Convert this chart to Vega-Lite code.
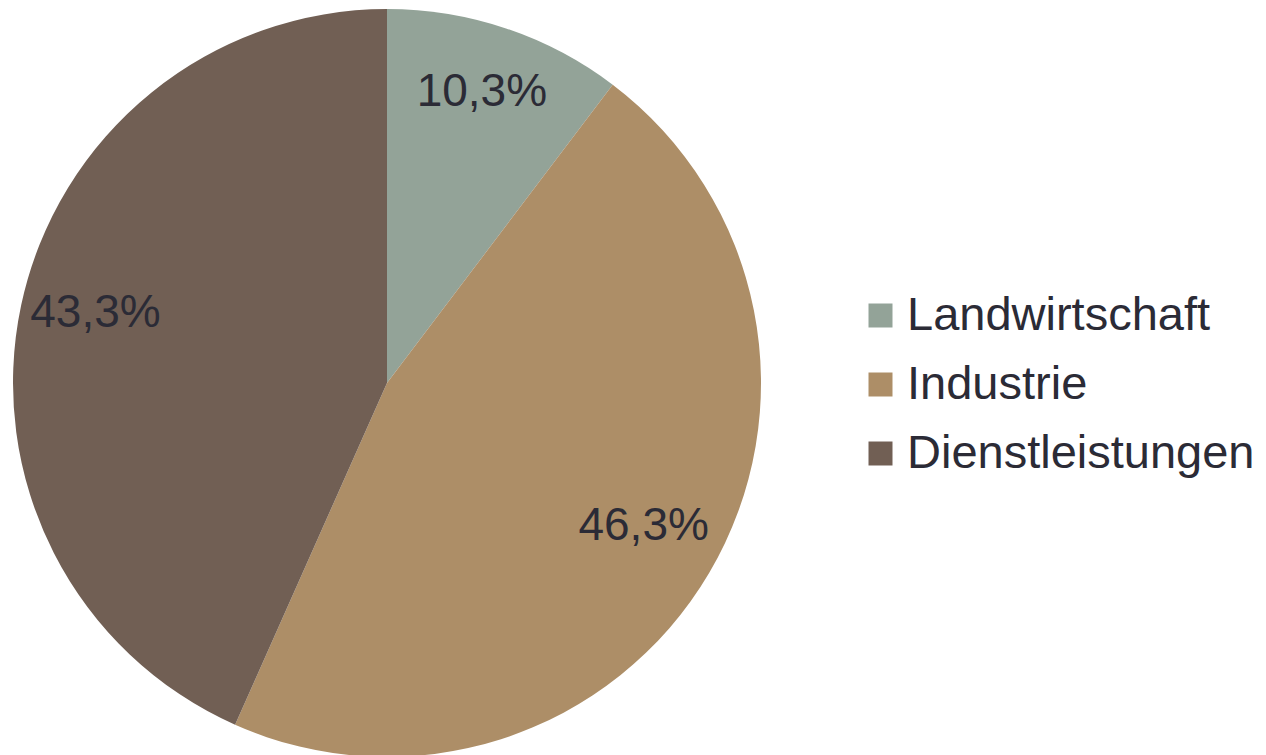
{
  "$schema": "https://vega.github.io/schema/vega-lite/v6.json",
  "width": 774,
  "height": 766,
  "padding": {"left": 0, "top": 0, "right": 492, "bottom": 0},
  "autosize": {"type": "none"},
  "background": "#ffffff",
  "config": {
    "view": {"stroke": null},
    "locale": {"number": {"decimal": ",", "thousands": ".", "grouping": [3], "currency": ["", " €"]}}
  },
  "data": {
    "values": [
      {"Sektor": "Landwirtschaft", "Anteil": 0.103},
      {"Sektor": "Industrie", "Anteil": 0.463},
      {"Sektor": "Dienstleistungen", "Anteil": 0.433}
    ]
  },
  "encoding": {
    "theta": {"field": "Anteil", "type": "quantitative", "stack": true},
    "order": {"field": "Sektor", "type": "nominal", "sort": "descending"},
    "color": {
      "field": "Sektor",
      "type": "nominal",
      "scale": {
        "domain": ["Landwirtschaft", "Industrie", "Dienstleistungen"],
        "range": ["#93A398", "#AD8E67", "#715F54"]
      },
      "legend": {
        "title": null,
        "orient": "none",
        "legendX": 857,
        "legendY": 292,
        "symbolType": "square",
        "symbolSize": 576,
        "symbolStrokeWidth": 0,
        "labelFont": "Liberation Sans",
        "labelFontSize": 47,
        "labelColor": "#2B2B36",
        "labelOffset": 3,
        "labelLimit": 0,
        "rowPadding": 21,
        "padding": 0
      }
    }
  },
  "layer": [
    {"mark": {"type": "arc", "outerRadius": 374, "stroke": null}},
    {
      "mark": {"type": "text", "radius": 298, "dy": -8, "font": "Liberation Sans", "fontSize": 46, "baseline": "middle", "align": "center"},
      "encoding": {
        "text": {"field": "Anteil", "type": "quantitative", "format": ".1%"},
        "color": {"value": "#2B2B36"}
      }
    }
  ]
}
